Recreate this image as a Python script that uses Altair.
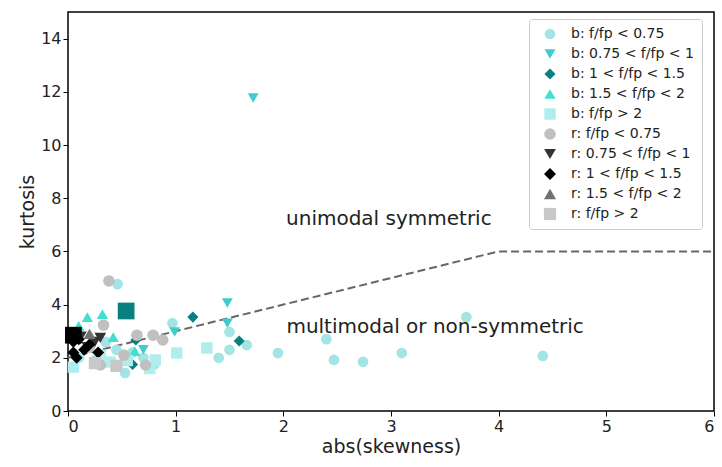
import altair as alt
import pandas as pd

# ---- legend groups ----
groups = ["b: f/fp < 0.75", "b: 0.75 < f/fp < 1", "b: 1 < f/fp < 1.5", "b: 1.5 < f/fp < 2", "b: f/fp > 2",
          "r: f/fp < 0.75", "r: 0.75 < f/fp < 1", "r: 1 < f/fp < 1.5", "r: 1.5 < f/fp < 2", "r: f/fp > 2"]
colors = ["#a3e4e4", "#40cccc", "#0a7f7f", "#40e0d0", "#b0eeee",
          "#c0c0c0", "#333333", "#000000", "#707070", "#c8c8c8"]
shapes = ["circle", "triangle-down", "diamond", "triangle-up", "square",
          "circle", "triangle-down", "diamond", "triangle-up", "square"]
sizes = [115, 150, 200, 150, 120, 115, 150, 200, 150, 120]

# ---- data (abs skewness, kurtosis) ----
b1_x = [0.46, 0.97, 1.50, 1.40, 1.50, 1.66, 1.95, 2.40, 2.47, 2.74, 3.10, 3.70, 4.41, 0.53, 0.25, 0.45, 0.10, 0.70, 0.80, 0.35, 0.60]
b1_y = [4.77, 3.30, 2.97, 2.00, 2.30, 2.48, 2.18, 2.70, 1.92, 1.85, 2.18, 3.53, 2.07, 1.43, 1.90, 2.30, 2.00, 2.00, 1.75, 2.60, 2.20]
b2_x = [1.72, 1.48, 1.48, 0.99, 0.70]
b2_y = [11.77, 4.06, 3.30, 2.97, 2.30]
b3_x = [1.16, 1.59, 0.63, 0.60]
b3_y = [3.53, 2.63, 2.67, 1.75]
b4_x = [0.18, 0.32, 0.42, 0.62, 0.10]
b4_y = [3.53, 3.64, 2.78, 2.25, 3.20]
b5_x = [1.01, 1.29, 0.81, 0.76, 0.39, 0.05, 0.30, 0.55]
b5_y = [2.18, 2.37, 1.92, 1.60, 1.84, 1.65, 2.10, 1.90]
r1_x = [0.38, 0.33, 0.64, 0.79, 0.88, 0.52, 0.72, 0.30, 0.20]
r1_y = [4.89, 3.23, 2.85, 2.85, 2.67, 2.10, 1.73, 1.73, 2.40]
r2_x = [0.12, 0.25, 0.30, 0.18]
r2_y = [2.80, 2.60, 2.75, 2.40]
r3_x = [0.05, 0.10, 0.15, 0.28, 0.20, 0.05, 0.08]
r3_y = [2.60, 2.70, 2.30, 2.20, 2.50, 2.20, 2.00]
r4_x = [0.20]
r4_y = [2.90]
r5_x = [0.25, 0.45]
r5_y = [1.80, 1.70]

# large markers (no legend entry)
big_x = [0.54, 0.05]
big_y = [3.76, 2.85]
big_c = ["#0a7f7f", "#000000"]

# dividing line
line_x = [0, 4, 6]
line_y = [2, 6, 6]

# annotations
ann_text = ["unimodal symmetric", "multimodal or non-symmetric"]
ann_x = [2.98, 3.41]
ann_y = [7.2, 3.16]

series = [(b1_x, b1_y), (b2_x, b2_y), (b3_x, b3_y), (b4_x, b4_y), (b5_x, b5_y),
          (r1_x, r1_y), (r2_x, r2_y), (r3_x, r3_y), (r4_x, r4_y), (r5_x, r5_y)]
rows = []
for g, (xs_, ys_) in zip(groups, series):
    for x, y in zip(xs_, ys_):
        rows.append({"x": x, "y": y, "group": g})
df = pd.DataFrame(rows)

xs = alt.Scale(domain=[0, 6], nice=False, zero=False)
ys = alt.Scale(domain=[0, 15], nice=False, zero=False)

line = alt.Chart(pd.DataFrame({"x": line_x, "y": line_y})).mark_line(
    color="#666666", strokeWidth=2, strokeDash=[8, 4]
).encode(x=alt.X("x:Q", scale=xs), y=alt.Y("y:Q", scale=ys))

pts = alt.Chart(df).mark_point(filled=True, opacity=1).encode(
    x=alt.X("x:Q", scale=xs, title="abs(skewness)",
            axis=alt.Axis(values=[0, 1, 2, 3, 4, 5, 6], format="d")),
    y=alt.Y("y:Q", scale=ys, title="kurtosis",
            axis=alt.Axis(values=[0, 2, 4, 6, 8, 10, 12, 14], format="d")),
    color=alt.Color("group:N", scale=alt.Scale(domain=groups, range=colors),
                    legend=alt.Legend(title=None, orient="none", legendX=461, legendY=7,
                                      labelFontSize=14, rowPadding=6.0,
                                      padding=8, strokeColor="#cccccc", fillColor="white",
                                      cornerRadius=3, labelColor="#222222", symbolOffset=6,
                                      labelOffset=14)),
    shape=alt.Shape("group:N", scale=alt.Scale(domain=groups, range=shapes)),
    size=alt.Size("group:N", scale=alt.Scale(domain=groups, range=sizes)),
    order=alt.Order("idx:Q"),
).transform_window(idx="row_number()")

big = alt.Chart(pd.DataFrame({"x": big_x, "y": big_y, "c": big_c})).mark_point(
    filled=True, opacity=1, shape="square", size=280
).encode(x=alt.X("x:Q", scale=xs), y=alt.Y("y:Q", scale=ys), color=alt.Color("c:N", scale=None))

txt = alt.Chart(pd.DataFrame({"x": ann_x, "y": ann_y, "t": ann_text})).mark_text(
    fontSize=20, font="DejaVu Sans", color="#222222", align="center", baseline="middle"
).encode(x=alt.X("x:Q", scale=xs), y=alt.Y("y:Q", scale=ys), text="t:N")

chart = alt.layer(line, pts, big, txt).properties(
    width=646, height=399,
    autosize=alt.AutoSizeParams(type="none"),
    padding={"left": 68, "top": 12, "right": 8, "bottom": 56},
).configure_view(stroke="black", strokeWidth=1.5).configure_axis(
    grid=False, domain=False, tickColor="black", tickSize=5, labelColor="#222222",
    labelFont="DejaVu Sans", labelFontSize=16, titleFont="DejaVu Sans", titleFontSize=19,
    titleFontWeight="normal", titleColor="#222222", labelPadding=2, titlePadding=3
).configure_legend(labelFont="DejaVu Sans")

chart.save("out.html", embed_options={"renderer": "svg", "actions": False})
